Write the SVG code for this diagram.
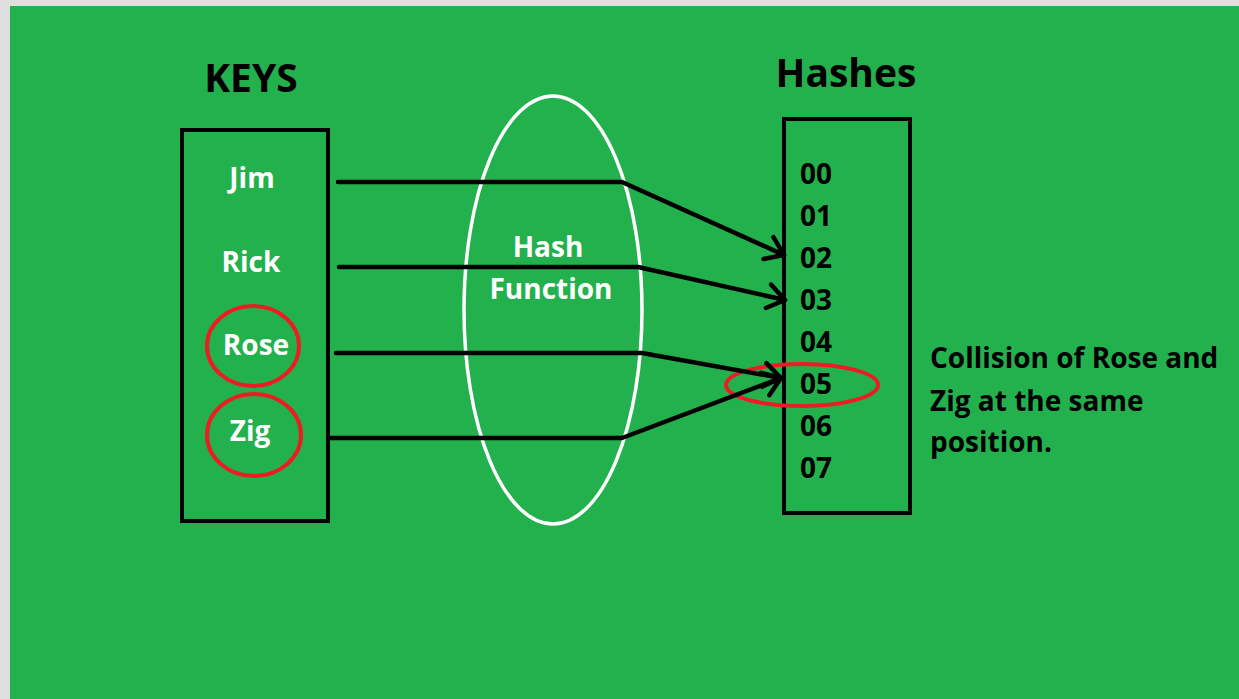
<svg xmlns="http://www.w3.org/2000/svg" width="1239" height="699" viewBox="0 0 1239 699">
<defs>
<style>
.t{font-family:"Open Sans","Noto Sans","Liberation Sans",sans-serif;font-weight:700}
.title{font-size:39px;fill:#000}
.key{font-size:28px;fill:#fff;text-anchor:middle}
.num{font-size:28px;fill:#000}
.box{fill:none;stroke:#000;stroke-width:4}
.red{fill:none;stroke:#ed1c24;stroke-width:4}
.conn{fill:none;stroke:#000;stroke-width:4.5;stroke-linejoin:round;stroke-linecap:round}
</style>
<marker id="arr" markerUnits="userSpaceOnUse" markerWidth="30" markerHeight="30" refX="0" refY="0" viewBox="-22 -15 26 30" orient="auto">
<path d="M-17,-12 L0,0 L-17,12" fill="none" stroke="#000" stroke-width="4.5" stroke-linecap="round" stroke-linejoin="round"/>
</marker>
</defs>
<rect x="0" y="0" width="1239" height="699" fill="#dfdfdf"/>
<rect x="10" y="6" width="1229" height="693" fill="#23b14d"/>

<g id="keys">
<text class="t title" x="251" y="92" text-anchor="middle">KEYS</text>
<rect class="box" x="182" y="130" width="146" height="391"/>
<text class="t key" x="252" y="188">Jim</text>
<text class="t key" x="251" y="272">Rick</text>
<text class="t key" x="256" y="355">Rose</text>
<text class="t key" x="250" y="441">Zig</text>
<ellipse class="red" cx="253" cy="346" rx="46" ry="40"/>
<ellipse class="red" cx="254" cy="435" rx="47" ry="41"/>
</g>

<g id="hash-function">
<ellipse cx="553" cy="310" rx="89" ry="214" fill="none" stroke="#fff" stroke-width="3.5"/>
<text class="t key" x="548" y="257">Hash</text>
<text class="t key" x="551" y="299">Function</text>
</g>

<g id="hashes">
<text class="t title" x="846" y="87" text-anchor="middle">Hashes</text>
<rect class="box" x="784" y="119" width="126" height="394"/>
<text class="t num" x="800" y="184">00</text>
<text class="t num" x="800" y="226">01</text>
<text class="t num" x="800" y="268">02</text>
<text class="t num" x="800" y="310">03</text>
<text class="t num" x="800" y="352">04</text>
<text class="t num" x="800" y="394">05</text>
<text class="t num" x="800" y="436">06</text>
<text class="t num" x="800" y="478">07</text>
<ellipse class="red" cx="802" cy="385" rx="76" ry="21"/>
</g>

<g id="note">
<text class="t num" x="930" y="368">Collision of Rose and</text>
<text class="t num" x="930" y="411">Zig at the same</text>
<text class="t num" x="930" y="452">position.</text>
</g>

<g id="connectors">
<polyline class="conn" points="338,182 622,182 784,255" marker-end="url(#arr)"/>
<polyline class="conn" points="339,267 638,267 785,300" marker-end="url(#arr)"/>
<polyline class="conn" points="336,353 642,353 781,378" marker-end="url(#arr)"/>
<polyline class="conn" points="330,438 622,438 781,378" marker-end="url(#arr)"/>
</g>
</svg>
